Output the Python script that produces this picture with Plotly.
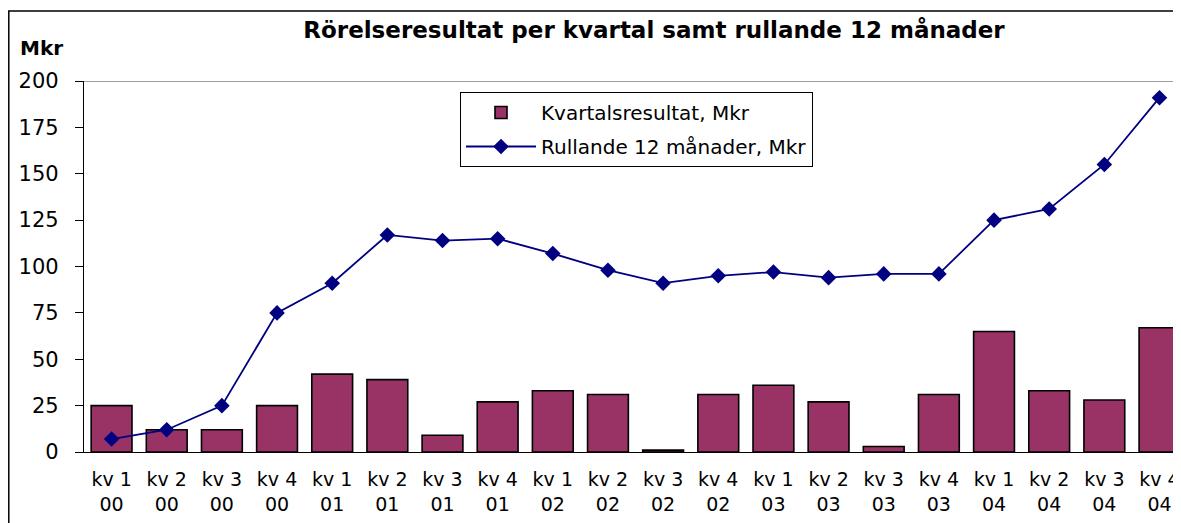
import plotly.graph_objects as go

quarters = ["kv 1", "kv 2", "kv 3", "kv 4"] * 5
years = ["00"] * 4 + ["01"] * 4 + ["02"] * 4 + ["03"] * 4 + ["04"] * 4
tick_labels = [f"{q}<br>{y}" for q, y in zip(quarters, years)]

kvartal = [25, 12, 12, 25, 42, 39, 9, 27, 33, 31, 1, 31, 36, 27, 3, 31, 65, 33, 28, 67]
rullande = [7, 12, 25, 75, 91, 117, 114, 115, 107, 98, 91, 95, 97, 94, 96, 96, 125, 131, 155, 191]

y_ticks = [0, 25, 50, 75, 100, 125, 150, 175, 200]

n = len(kvartal)
xs = list(range(n))
bounds = [i - 0.5 for i in range(n + 1)]
xrange = [-0.5, 19.39]
yrange = [0, 200]

FONT = "DejaVu Sans"

# page body has an 8px default margin; figure is sized to fill the rest
W, H = 1173, 515
ML, MT, MB = 76, 73, 71
PW = W - ML
PH = H - MT - MB

fig = go.Figure()
fig.add_trace(go.Bar(
    x=xs, y=kvartal, name="Kvartalsresultat, Mkr",
    marker=dict(color="#993366", line=dict(color="black", width=1.6)),
    width=0.74, legendgroup="a",
))
fig.add_trace(go.Scatter(
    x=xs, y=rullande, name="Rullande 12 månader, Mkr", mode="lines+markers",
    line=dict(color="#000080", width=1.8),
    marker=dict(symbol="diamond", size=12, color="#000080"),
    legendgroup="b",
))

axis_common = dict(range=xrange, showgrid=False, zeroline=False, automargin=False)
fig.update_layout(
    width=W, height=H,
    margin=dict(l=ML, r=0, t=MT, b=MB, autoexpand=False),
    paper_bgcolor="white", plot_bgcolor="white",
    font=dict(family=FONT, color="black"),
    title=dict(
        text="<b>Rörelseresultat per kvartal samt rullande 12 månader</b>",
        font=dict(family=FONT, size=23, color="black"),
        x=646 / W, xref="container", xanchor="center",
        y=1 - 22 / H, yref="container", yanchor="middle",
        automargin=False,
    ),
    xaxis=dict(
        **axis_common, tickmode="array", tickvals=xs, ticktext=tick_labels,
        ticks="", showline=True, linecolor="black", linewidth=1.3,
        tickfont=dict(family=FONT, size=19, color="black"),
        ticklabelstandoff=10,
    ),
    xaxis2=dict(
        **axis_common, overlaying="x", anchor="y", side="bottom",
        tickmode="array", tickvals=bounds, ticks="outside", ticklen=5,
        tickcolor="black", tickwidth=1.3, showticklabels=False, showline=False,
    ),
    xaxis3=dict(
        **axis_common, overlaying="x", anchor="y", side="bottom",
        tickmode="array", tickvals=bounds, ticks="inside", ticklen=5,
        tickcolor="black", tickwidth=1.3, showticklabels=False, showline=False,
    ),
    yaxis=dict(
        range=yrange, tickmode="array", tickvals=y_ticks, showgrid=False, zeroline=False,
        ticks="outside", ticklen=8, tickcolor="black", tickwidth=1.3,
        showline=True, linecolor="black", linewidth=1.3, automargin=False,
        tickfont=dict(family=FONT, size=21, color="black"),
        ticklabelstandoff=12,
    ),
    yaxis2=dict(
        range=yrange, overlaying="y", anchor="x", side="left", automargin=False,
        tickmode="array", tickvals=y_ticks, showgrid=False, zeroline=False,
        ticks="inside", ticklen=8, tickcolor="black", tickwidth=1.3,
        showticklabels=False, showline=False,
    ),
    legend=dict(
        x=(460 - 84) / PW, y=(452 - 92) / PH, xanchor="left", yanchor="top",
        bgcolor="white", bordercolor="black", borderwidth=1,
        font=dict(family=FONT, size=20, color="black"),
        itemwidth=70, traceorder="grouped", tracegroupgap=5,
    ),
    showlegend=True,
)

# plot-area top border (gray line at 200)
fig.add_shape(type="line", xref="paper", yref="y", x0=0, x1=1, y0=200, y1=200,
              line=dict(color="#808080", width=1.5), layer="below")
# outer chart border
fig.add_shape(type="rect", xref="paper", yref="paper",
              x0=(0.8 - ML) / PW, x1=1.05, y0=-0.5, y1=(MT + PH - 3) / PH,
              line=dict(color="black", width=1.5), fillcolor="rgba(0,0,0,0)", layer="below")

fig.add_annotation(
    text="<b>Mkr</b>", xref="paper", yref="paper",
    x=(18 - 84) / PW, y=(452 - 48) / PH, xanchor="left", yanchor="middle",
    showarrow=False, font=dict(family=FONT, size=20, color="black"),
)

fig.write_html("out.html")
